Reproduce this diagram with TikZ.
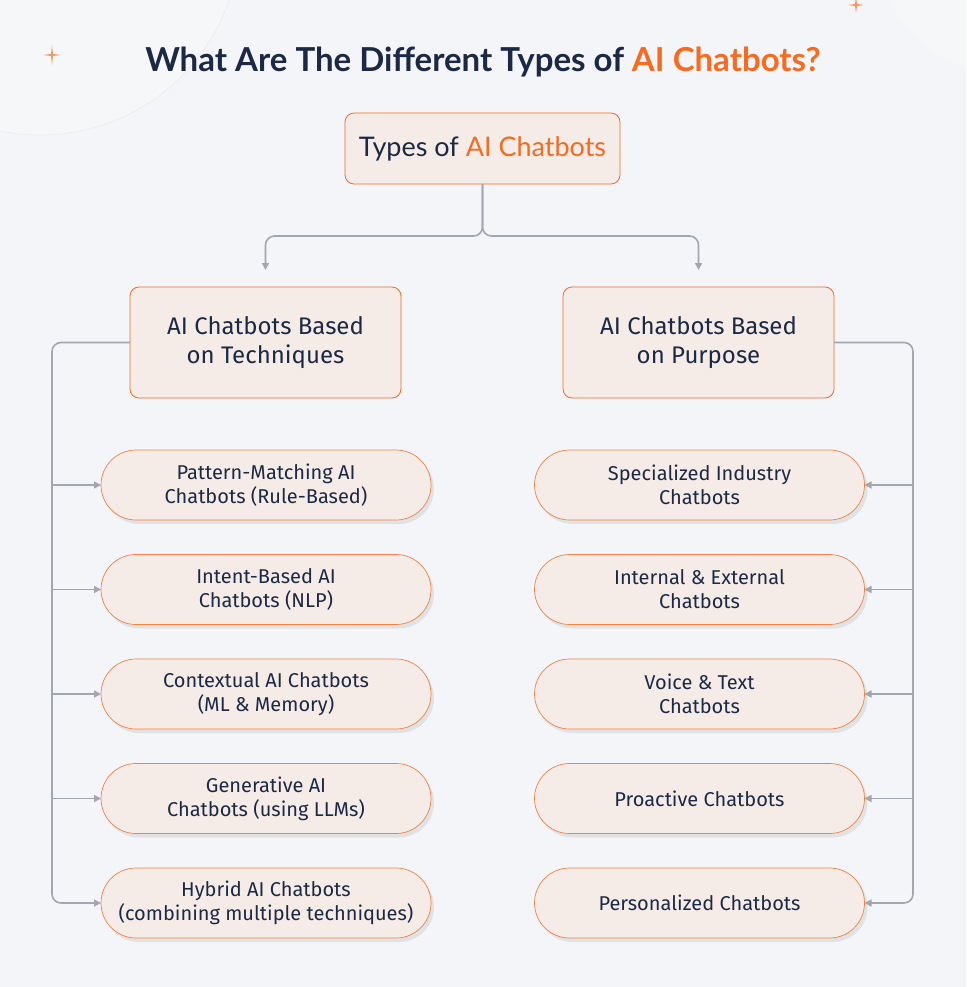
\documentclass[tikz,border=0pt]{standalone}
\usepackage{fontspec}
\setmainfont{Fira Sans}
\newfontfamily\headfont{Lato}
\usetikzlibrary{positioning}
\usetikzlibrary{shadows}
\usetikzlibrary{arrows.meta}
\definecolor{bgColor}{RGB}{243,245,248}
\definecolor{navyColor}{RGB}{28,41,68}
\definecolor{orangeColor}{RGB}{248,106,30}
\definecolor{boxFillColor}{RGB}{245,236,232}
\definecolor{lineColor}{RGB}{162,166,175}
\tikzset{
	headBox/.style = {
		draw = orangeColor, fill = boxFillColor, line width = 0.8pt,
		rounded corners = 9pt, text = navyColor, align = center, outer sep = 0pt
	},
	groupBox/.style = {
		headBox, minimum width = 271pt, minimum height = 111pt,
		font = \fontsize{24}{29}\selectfont
	},
	pill/.style = {
		draw = orangeColor!85, fill = boxFillColor, line width = 0.7pt,
		rounded corners = 35pt, minimum width = 330pt, minimum height = 70pt,
		text = navyColor, align = center, outer sep = 0pt,
		font = \fontsize{20}{24}\selectfont,
		drop shadow = {opacity = 0.16, shadow xshift = 3pt, shadow yshift = -4pt}
	},
	connLine/.style = {
		draw = lineColor, line width = 1.6pt, rounded corners = 9pt
	},
	arrowLine/.style = {
		connLine, -{Triangle[length = 7pt, width = 7pt]}
	}
}

\begin{document}
\begin{tikzpicture}[x=1pt, y=-1pt, node distance=34.5pt]
	% page and background decoration
	\fill[bgColor] (0,0) rectangle (966,987);
	\useasboundingbox (0,0) rectangle (966,987);
	\begin{scope}
		\clip (0,0) rectangle (966,987);
		\fill[white, opacity=0.25] (40,-65) circle (200);
		\draw[black!8, line width=0.6pt] (40,-65) circle (200);
		\fill[white, opacity=0.2] (1010,-60) circle (135);
	\end{scope}
	\fill[orangeColor!70] (52,45) -- (53,54) -- (61,55) -- (53,56) -- (52,65) -- (51,56) -- (43,55) -- (51,54) -- cycle;
	\fill[orangeColor!70] (856,-4) -- (857,4) -- (864,5) -- (857,6) -- (856,13) -- (855,6) -- (848,5) -- (855,4) -- cycle;

	% title
	\node[font=\headfont\bfseries\fontsize{33}{38}\selectfont, text=navyColor] (title) at (483,62)
		{What Are The Different Types of \textcolor{orangeColor}{AI Chatbots?}};

	% tree
	\node[headBox, minimum width=275pt, minimum height=71pt, font=\headfont\fontsize{27}{32}\selectfont] (root) at (482.5,148.5)
		{Types of \textcolor{orangeColor}{AI Chatbots}};
	\node[groupBox] (tech) at (265.5,342.5) {AI Chatbots Based\\on Techniques};
	\node[groupBox] (purpose) at (698.5,342.5) {AI Chatbots Based\\on Purpose};

	\node[pill] (techA) at (266,485) {Pattern-Matching AI\\Chatbots (Rule-Based)};
	\node[pill, below = of techA] (techB) {Intent-Based AI\\Chatbots (NLP)};
	\node[pill, below = of techB] (techC) {Contextual AI Chatbots\\(ML \& Memory)};
	\node[pill, below = of techC] (techD) {Generative AI\\Chatbots (using LLMs)};
	\node[pill, below = of techD] (techE) {Hybrid AI Chatbots\\(combining multiple techniques)};

	\node[pill] (purpA) at (699.5,485) {Specialized Industry\\Chatbots};
	\node[pill, below = of purpA] (purpB) {Internal \& External\\Chatbots};
	\node[pill, below = of purpB] (purpC) {Voice \& Text\\Chatbots};
	\node[pill, below = of purpC] (purpD) {Proactive Chatbots};
	\node[pill, below = of purpD] (purpE) {Personalized Chatbots};

	\coordinate (leftRail) at (52,0);
	\coordinate (rightRail) at (913,0);

	\draw[arrowLine, shorten >=17pt] (root.south) -- ++(0,52) -| (tech.north);
	\draw[arrowLine, shorten >=17pt] (root.south) -- ++(0,52) -| (purpose.north);

	\draw[arrowLine] (tech.west) -| (leftRail |- techE.west) -- (techE.west);
	\foreach \n in {techA,techB,techC,techD}
		\draw[arrowLine] (leftRail |- \n.west) -- (\n.west);

	\draw[arrowLine] (purpose.east) -| (rightRail |- purpE.east) -- (purpE.east);
	\foreach \n in {purpA,purpB,purpC,purpD}
		\draw[arrowLine] (rightRail |- \n.east) -- (\n.east);
\end{tikzpicture}
\end{document}
